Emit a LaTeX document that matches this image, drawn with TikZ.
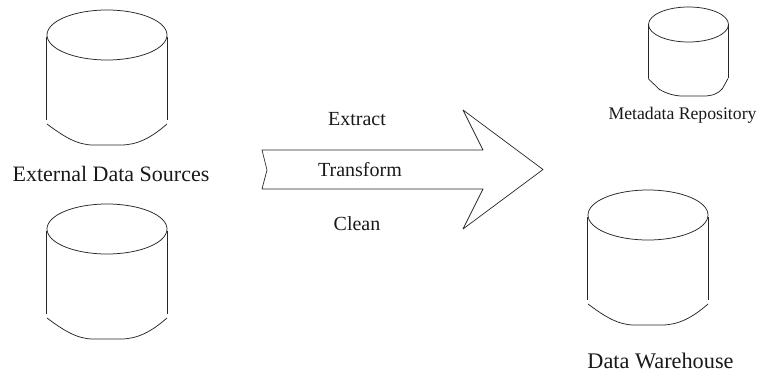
\documentclass[tikz,border=0pt]{standalone}
\usepackage{fontspec}
\setmainfont{Liberation Serif}
\tikzset{
  outline/.style={draw=black!85,line width=0.75pt,line join=round},
  lab/.style={inner sep=0pt,anchor=center,text=black!90},
  pics/drum/.style={code={
    % unit drum: top ellipse centred at origin, half width 60, half height 25
    \draw[outline] (0,0) ellipse [x radius=60,y radius=25];
    \draw[outline] (-60.5,2) -- (-60.5,85);
    \draw[outline] (60,2) -- (60,85);
    \draw[outline] (-60,89) .. controls (-44,101) and (-30,110) .. (-14,110) -- (14,110)
      .. controls (30,110) and (44,103) .. (60,89);
  }},
  pics/smalldrum/.style={code={
    \draw[outline] (0,0) ellipse [x radius=40,y radius=17.5];
    \draw[outline] (-40.5,1) -- (-40.5,54);
    \draw[outline] (39.5,1) -- (39.5,54);
    \draw[outline] (-40.5,54) -- (-29,65) .. controls (-22,69) and (-14,71.5) .. (-6,71.5) -- (15,71.5)
      .. controls (24,71.5) and (30,69) .. (34,64) -- (39.5,54);
  }}
}
\begin{document}
\begin{tikzpicture}[x=1pt,y=-1pt]
\useasboundingbox (0,0) rectangle (759,374);
\pic (src1) at (107,35) {drum};
\pic (src2) at (107,229) {drum};
\pic (wh) at (648,215) {drum};
\pic (meta) at (688.5,24.5) {smalldrum};
\draw[outline,line width=0.7pt] (262,150) -- (483,150) -- (463,110) -- (543,169.5) -- (463,229) -- (483,189) -- (262,189) -- (267,170) -- cycle;
\node[lab,font=\fontsize{22}{24}\selectfont] (l1) at (111,173.5) {External Data Sources};
\node[lab,font=\fontsize{20}{22}\selectfont] (l2) at (357,119) {Extract};
\node[lab,font=\fontsize{20}{22}\selectfont] (l3) at (360,169.5) {Transform};
\node[lab,font=\fontsize{20}{22}\selectfont] (l4) at (357,223.5) {Clean};
\node[lab,font=\fontsize{17.7}{19}\selectfont] (l5) at (682.5,115) {Metadata Repository};
\node[lab,font=\fontsize{22.3}{24}\selectfont] (l6) at (660.5,361) {Data Warehouse};
\end{tikzpicture}
\end{document}
